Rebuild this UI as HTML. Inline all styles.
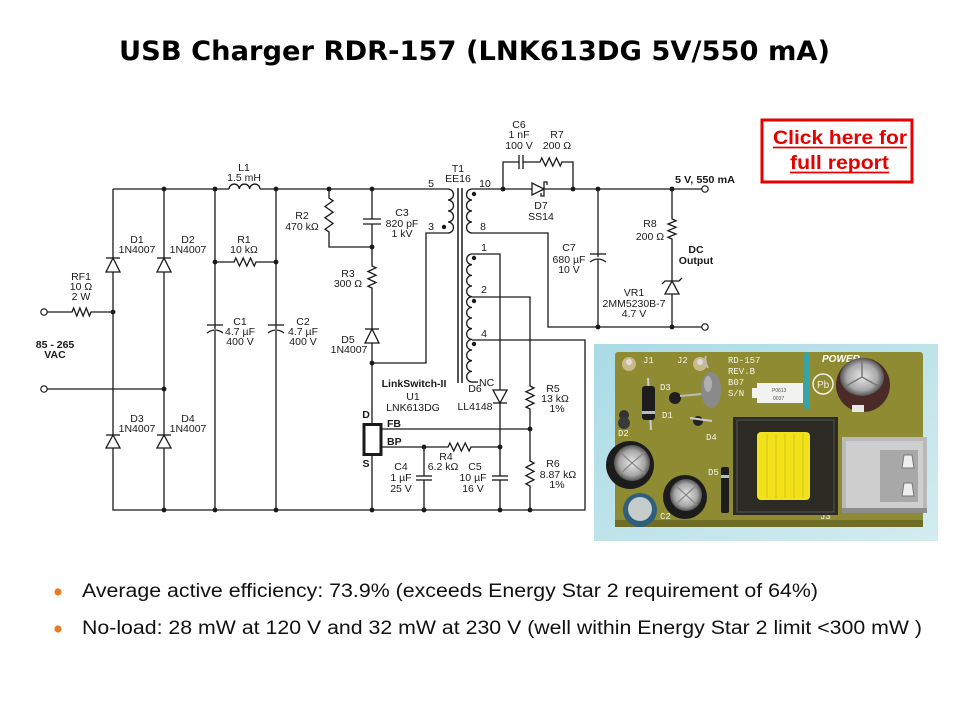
<!DOCTYPE html>
<html>
<head>
<meta charset="utf-8">
<style>
  html,body{margin:0;padding:0;background:#fff;}
  svg{display:block;}
  .t{font-family:"Liberation Sans",Arial,sans-serif;font-size:10.5px;fill:#1a1a1a;text-anchor:middle;}
  .b{font-weight:bold;}
  .s{text-anchor:start;}
  .w{stroke:#1a1a1a;stroke-width:1.3;fill:none;stroke-linejoin:miter;}
  .dw{stroke:#1a1a1a;stroke-width:1.3;fill:#fff;}
  .n{fill:#1a1a1a;}
</style>
</head>
<body>
<svg width="960" height="720" viewBox="0 0 960 720" xmlns="http://www.w3.org/2000/svg">
<rect width="960" height="720" fill="#fff"/>

<!-- Title -->
<text x="119" y="60" font-family="DejaVu Sans, Liberation Sans, sans-serif" font-weight="bold" font-size="27" fill="#000" textLength="711" lengthAdjust="spacingAndGlyphs">USB Charger RDR-157 (LNK613DG 5V/550 mA)</text>

<!-- ===== Schematic wires ===== -->
<g class="w">
  <!-- top rail -->
  <path d="M113,189 H229"/>
  <path d="M229,189 a5.17,5.17 0 0 1 10.33,0 a5.17,5.17 0 0 1 10.33,0 a5.17,5.17 0 0 1 10.33,0"/>
  <path d="M260,189 H448"/>
  <!-- left column + bottom rail + pin4 -->
  <path d="M113,189 V510 H585 V340 H472"/>
  <path d="M164,189 V510"/>
  <path d="M47,389 H164"/>
  <!-- RF1 -->
  <path d="M47,312 H72 L73.6,308 L76.75,316 L79.9,308 L83.1,316 L86.25,308 L89.4,316 L91,312 H113"/>
  <!-- C1, C2 -->
  <path d="M215,189 V329"/>
  <path d="M215,331 V510"/>
  <path d="M207,325 H223"/>
  <path d="M207,333 Q215,327 223,333"/>
  <path d="M276,189 V329"/>
  <path d="M276,331 V510"/>
  <path d="M268,325 H284"/>
  <path d="M268,333 Q276,327 284,333"/>
  <!-- R1 -->
  <path d="M215,262 H234 L235.8,258 L239.5,266 L243.2,258 L246.8,266 L250.5,258 L254.2,266 L256,262 H276"/>
  <!-- R2 -->
  <path d="M329,189 V198 L333,200.8 L325,206.5 L333,212.2 L325,217.8 L333,223.5 L325,229.2 L329,232 V247 H372"/>
  <!-- C3 column -->
  <path d="M372,189 V219"/>
  <path d="M363,219 H381"/>
  <path d="M363,224 H381"/>
  <path d="M372,224 V266 L376,267.8 L368,271.5 L376,275.2 L368,278.8 L376,282.5 L368,286.2 L372,288 V424"/>
  <path d="M372,455 V510"/>
  <!-- pin 3 -->
  <path d="M448,233 H426 V363 H372"/>
  <!-- primary coil -->
  <path d="M448,189 a5.5,5.5 0 0 1 0,11 a5.5,5.5 0 0 1 0,11 a5.5,5.5 0 0 1 0,11 a5.5,5.5 0 0 1 0,11"/>
  <!-- secondary coil 10-8 -->
  <path d="M503,189 H472 a5.5,5.5 0 0 0 0,11 a5.5,5.5 0 0 0 0,11 a5.5,5.5 0 0 0 0,11 a5.5,5.5 0 0 0 0,11 H548 V327 H702"/>
  <path d="M503,189 H702"/>
  <!-- C6 / R7 snubber -->
  <path d="M503,189 V162 H519"/>
  <path d="M519,155 V169"/>
  <path d="M523,155 V169"/>
  <path d="M523,162 H540 L541.8,158 L545.5,166 L549.2,158 L552.8,166 L556.5,158 L560.2,166 L562,162 H573 V189"/>
  <!-- C7 -->
  <path d="M598,189 V257"/>
  <path d="M598,259 V327"/>
  <path d="M590,254 H606"/>
  <path d="M590,262 Q598,256 606,262"/>
  <!-- R8 / VR1 -->
  <path d="M672,189 V219 L676,220.7 L668,224 L676,227.3 L668,230.7 L676,234 L668,237.3 L672,239 V327"/>
  <!-- bias coil -->
  <path d="M472,254 a5.33,5.33 0 0 0 0,10.67 a5.33,5.33 0 0 0 0,10.67 a5.33,5.33 0 0 0 0,10.67 a5.33,5.33 0 0 0 0,10.67 a5.33,5.33 0 0 0 0,10.67 a5.33,5.33 0 0 0 0,10.67 a5.33,5.33 0 0 0 0,10.67 a5.33,5.33 0 0 0 0,10.67 a5.33,5.33 0 0 0 0,10.67 a5.33,5.33 0 0 0 0,10.67 a5.33,5.33 0 0 0 0,10.67 a5.33,5.33 0 0 0 0,10.67 H478"/>
  <!-- pin 1 -> D6 -> C5 -->
  <path d="M472,254 H500 V476"/>
  <path d="M500,480 V510"/>
  <path d="M492,476 H508"/>
  <path d="M492,480 H508"/>
  <!-- pin 2 -> R5 -> R6 -->
  <path d="M472,297 H530 V386 L534,387.9 L526,391.75 L534,395.6 L526,399.4 L534,403.25 L526,407.1 L530,409 V461 L534,463.1 L526,467.25 L534,471.4 L526,475.6 L534,479.75 L526,483.9 L530,486 V510"/>
  <!-- FB, BP -->
  <path d="M381,429 H530"/>
  <path d="M381,447 H448 L449.9,443 L453.75,451 L457.6,443 L461.4,451 L465.25,443 L469.1,451 L471,447 H500"/>
  <!-- C4 -->
  <path d="M424,447 V476"/>
  <path d="M416,476 H432"/>
  <path d="M416,480 H432"/>
  <path d="M424,480 V510"/>
</g>
<!-- core -->
<path d="M458,188 V383 M462,188 V383" stroke="#1a1a1a" stroke-width="1.5" fill="none"/>

<!-- U1 box -->
<rect x="364" y="424.5" width="17" height="30" fill="#fff" stroke="#1a1a1a" stroke-width="3"/>

<!-- Diodes -->
<g class="dw">
  <polygon points="113,258 106,272 120,272"/><path d="M106,258 H120"/>
  <polygon points="164,258 157,272 171,272"/><path d="M157,258 H171"/>
  <polygon points="113,435 106,448 120,448"/><path d="M106,435 H120"/>
  <polygon points="164,435 157,448 171,448"/><path d="M157,435 H171"/>
  <polygon points="372,329 365,343 379,343"/><path d="M365,329 H379"/>
  <polygon points="493,390 507,390 500,403"/><path d="M493,403 H507"/>
  <polygon points="532,183 532,195 544,189"/><path d="M547,185 V182 H544 V196 H541 V193" fill="none"/>
  <polygon points="672,281 665,294 679,294"/><path d="M662,284 L665,281 H679 L682,278" fill="none"/>
</g>

<!-- Junction dots -->
<g class="n">
  <circle cx="113" cy="312" r="2.4"/><circle cx="164" cy="189" r="2.4"/><circle cx="215" cy="189" r="2.4"/>
  <circle cx="276" cy="189" r="2.4"/><circle cx="329" cy="189" r="2.4"/><circle cx="372" cy="189" r="2.4"/>
  <circle cx="164" cy="389" r="2.4"/><circle cx="215" cy="262" r="2.4"/><circle cx="276" cy="262" r="2.4"/>
  <circle cx="164" cy="510" r="2.4"/><circle cx="215" cy="510" r="2.4"/><circle cx="276" cy="510" r="2.4"/>
  <circle cx="372" cy="247" r="2.4"/><circle cx="372" cy="363" r="2.4"/><circle cx="372" cy="510" r="2.4"/>
  <circle cx="424" cy="447" r="2.4"/><circle cx="424" cy="510" r="2.4"/><circle cx="500" cy="447" r="2.4"/>
  <circle cx="500" cy="510" r="2.4"/><circle cx="530" cy="429" r="2.4"/><circle cx="530" cy="510" r="2.4"/>
  <circle cx="503" cy="189" r="2.4"/><circle cx="573" cy="189" r="2.4"/><circle cx="598" cy="189" r="2.4"/>
  <circle cx="672" cy="189" r="2.4"/><circle cx="598" cy="327" r="2.4"/><circle cx="672" cy="327" r="2.4"/>
  <!-- phase dots -->
  <circle cx="444" cy="227" r="2.2"/><circle cx="474" cy="194" r="2.2"/>
  <circle cx="474" cy="258" r="2.2"/><circle cx="474" cy="301" r="2.2"/><circle cx="474" cy="344" r="2.2"/>
</g>

<!-- Terminals -->
<g fill="#fff" stroke="#1a1a1a" stroke-width="1.2">
  <circle cx="44" cy="312" r="3.2"/><circle cx="44" cy="389" r="3.2"/>
  <circle cx="705" cy="189" r="3.2"/><circle cx="705" cy="327" r="3.2"/>
</g>

<!-- Labels -->
<g class="t">
  <text x="244" y="171">L1</text><text x="244" y="181">1.5 mH</text>
  <text x="137" y="243">D1</text><text x="137" y="253">1N4007</text>
  <text x="188" y="243">D2</text><text x="188" y="253">1N4007</text>
  <text x="244" y="243">R1</text><text x="244" y="253">10 kΩ</text>
  <text x="81" y="280">RF1</text><text x="81" y="290">10 Ω</text><text x="81" y="300">2 W</text>
  <text x="240" y="325">C1</text><text x="240" y="335">4.7 µF</text><text x="240" y="345">400 V</text>
  <text x="303" y="325">C2</text><text x="303" y="335">4.7 µF</text><text x="303" y="345">400 V</text>
  <text class="b" x="55" y="348">85 - 265</text><text class="b" x="55" y="358">VAC</text>
  <text x="137" y="422">D3</text><text x="137" y="432">1N4007</text>
  <text x="188" y="422">D4</text><text x="188" y="432">1N4007</text>
  <text x="302" y="219">R2</text><text x="302" y="230">470 kΩ</text>
  <text x="458" y="172">T1</text><text x="458" y="182">EE16</text>
  <text x="402" y="216">C3</text><text x="402" y="227">820 pF</text><text x="402" y="237">1 kV</text>
  <text x="348" y="277">R3</text><text x="348" y="287">300 Ω</text>
  <text x="348" y="343">D5</text><text x="349" y="353">1N4007</text>
  <text x="431" y="187">5</text><text x="431" y="230">3</text>
  <text x="485" y="187">10</text><text x="483" y="230">8</text>
  <text x="484" y="251">1</text><text x="484" y="293">2</text><text x="484" y="337">4</text>
  <text class="s" x="479" y="386">NC</text>
  <text class="b" x="414" y="387">LinkSwitch-II</text>
  <text x="413" y="400">U1</text><text x="413" y="411">LNK613DG</text>
  <text class="b" x="366" y="418">D</text><text class="b" x="366" y="467">S</text>
  <text class="b s" x="387" y="427">FB</text><text class="b s" x="387" y="445">BP</text>
  <text x="446" y="460">R4</text><text x="443" y="470">6.2 kΩ</text>
  <text x="401" y="470">C4</text><text x="401" y="481">1 µF</text><text x="401" y="492">25 V</text>
  <text x="475" y="470">C5</text><text x="473" y="481">10 µF</text><text x="473" y="492">16 V</text>
  <text x="475" y="392">D6</text><text x="475" y="410">LL4148</text>
  <text x="553" y="392">R5</text><text x="555" y="402">13 kΩ</text><text x="557" y="412">1%</text>
  <text x="553" y="467">R6</text><text x="558" y="478">8.87 kΩ</text><text x="557" y="488">1%</text>
  <text x="519" y="128">C6</text><text x="519" y="138">1 nF</text><text x="519" y="149">100 V</text>
  <text x="557" y="138">R7</text><text x="557" y="149">200 Ω</text>
  <text x="541" y="209">D7</text><text x="541" y="220">SS14</text>
  <text class="b s" x="675" y="183" textLength="60" lengthAdjust="spacingAndGlyphs">5 V, 550 mA</text>
  <text x="569" y="251">C7</text><text x="569" y="263">680 µF</text><text x="569" y="273">10 V</text>
  <text x="650" y="227">R8</text><text x="650" y="240">200 Ω</text>
  <text class="b" x="696" y="253">DC</text><text class="b" x="696" y="264">Output</text>
  <text x="634" y="296">VR1</text><text x="634" y="307">2MM5230B-7</text><text x="634" y="317">4.7 V</text>
</g>

<!-- Red link box -->
<rect x="762" y="120" width="150" height="62" fill="#fff" stroke="#e60000" stroke-width="3"/>
<g font-family="Liberation Sans, Arial, sans-serif" font-weight="bold" font-size="19" fill="#e60000">
  <text x="773" y="144" textLength="134" lengthAdjust="spacingAndGlyphs">Click here for</text>
  <text x="790" y="169" textLength="99" lengthAdjust="spacingAndGlyphs">full report</text>
</g>
<path d="M773,147.5 H907 M790,172.5 H889" stroke="#e60000" stroke-width="1.8"/>

<!-- ===== Photo ===== -->
<defs>
  <linearGradient id="bg" x1="0" y1="0" x2="1" y2="1">
    <stop offset="0" stop-color="#a9dbe6"/>
    <stop offset="1" stop-color="#d3ecef"/>
  </linearGradient>
  <radialGradient id="cap" cx="0.5" cy="0.5" r="0.5">
    <stop offset="0" stop-color="#e8e8e8"/>
    <stop offset="0.7" stop-color="#a8a8a8"/>
    <stop offset="1" stop-color="#555"/>
  </radialGradient>
</defs>
<rect x="594" y="344" width="344" height="197" fill="url(#bg)"/>
<rect x="615" y="352" width="308" height="175" rx="3" fill="#8e8b32"/>
<rect x="615" y="520" width="308" height="7" fill="#6f6c26"/>
<!-- teal stripe -->
<rect x="804" y="352" width="6" height="58" rx="3" fill="#3aa4a4"/>
<!-- POWER logo -->
<text x="822" y="362" font-family="Liberation Sans, sans-serif" font-weight="bold" font-style="italic" font-size="10" fill="#fff">POWER</text>
<circle cx="823" cy="384" r="10" fill="none" stroke="#f0f0e0" stroke-width="1.5"/>
<text x="817" y="388" font-family="Liberation Sans, sans-serif" font-size="10" fill="#f0f0e0">Pb</text>
<!-- white silkscreen text -->
<g font-family="Liberation Mono, monospace" font-size="9" fill="#f4f4e8">
  <text x="643" y="363">J1</text><text x="677" y="363">J2</text>
  <text x="728" y="363">RD-157</text><text x="728" y="374">REV.B</text>
  <text x="728" y="385">B07</text><text x="728" y="396">S/N</text>
  <text x="660" y="390">D3</text><text x="662" y="418">D1</text><text x="618" y="436">D2</text>
  <text x="706" y="440">D4</text><text x="708" y="475">D5</text><text x="660" y="519">C2</text>
  <text x="820" y="519">J3</text>
</g>
<!-- sticker -->
<rect x="757" y="383" width="46" height="20" fill="#f2f2f0"/>
<rect x="752" y="388" width="6" height="10" fill="#f2f2f0"/>
<text x="772" y="392" font-family="Liberation Sans, sans-serif" font-size="5" fill="#555">P0613</text>
<text x="773" y="400" font-family="Liberation Sans, sans-serif" font-size="5" fill="#555">0037</text>
<!-- J1, J2 pins -->
<circle cx="629" cy="364" r="7" fill="#cbb98a"/><circle cx="629" cy="362" r="3" fill="#ddd"/>
<circle cx="700" cy="364" r="7" fill="#cbb98a"/><circle cx="700" cy="362" r="3" fill="#ddd"/>
<!-- D3 black diode -->
<line x1="648" y1="378" x2="651" y2="430" stroke="#ccc" stroke-width="2"/>
<rect x="642" y="386" width="13" height="34" rx="3" fill="#1c1c1c"/>
<rect x="642" y="411" width="13" height="3" fill="#bbb"/>
<!-- small diodes D2, D1, D4 -->
<circle cx="624" cy="415" r="5" fill="#333"/><circle cx="624" cy="423" r="6" fill="#3a3a3a"/>
<circle cx="675" cy="398" r="6" fill="#1e1e1e"/>
<path d="M680,396 L702,394" stroke="#bbb" stroke-width="2"/>
<circle cx="698" cy="421" r="5" fill="#222"/><path d="M690,418 L712,421" stroke="#ccc" stroke-width="2"/>
<!-- gray resistor RF1 -->
<ellipse cx="711" cy="390" rx="10" ry="18" fill="#8a8a8a"/>
<ellipse cx="708" cy="384" rx="4" ry="8" fill="#b0b0b0"/>
<path d="M708,368 Q704,360 706,356" stroke="#bbb" stroke-width="2" fill="none"/>
<!-- big output cap -->
<circle cx="863" cy="385" r="27" fill="#4a2b28"/>
<ellipse cx="862" cy="377" rx="22" ry="19" fill="url(#cap)"/>
<path d="M862,377 L862,360 M862,377 L878,386 M862,377 L846,386" stroke="#777" stroke-width="1.5"/>
<rect x="852" y="405" width="12" height="7" fill="#e8e8e8"/>
<!-- transformer -->
<rect x="733" y="417" width="105" height="98" fill="#2b2b24"/>
<rect x="737" y="420" width="97" height="92" fill="none" stroke="#555" stroke-width="1"/>
<rect x="757" y="432" width="53" height="68" rx="4" fill="#f1e21c"/>
<g stroke="#d6c410" stroke-width="1">
  <path d="M767,434 V498 M776,434 V498 M785,434 V498 M794,434 V498 M803,434 V498"/>
</g>
<!-- USB connector -->
<rect x="842" y="437" width="85" height="76" fill="#b9b9b9"/>
<rect x="846" y="441" width="77" height="68" fill="#cfcfcf"/>
<rect x="880" y="450" width="38" height="52" fill="#a8a8a8"/>
<path d="M904,455 L912,455 L914,468 L902,468 Z M904,483 L912,483 L914,496 L902,496 Z" fill="#eee" stroke="#777" stroke-width="1"/>
<rect x="842" y="508" width="85" height="5" fill="#8d8d8d"/>
<!-- D5 -->
<rect x="721" y="467" width="8" height="46" rx="2" fill="#1c1c1c"/>
<rect x="721" y="475" width="8" height="3" fill="#bbb"/>
<!-- C1 -->
<circle cx="630" cy="465" r="24" fill="#1c1c1c"/>
<circle cx="632" cy="463" r="18" fill="url(#cap)"/>
<path d="M632,463 L620,452 M632,463 L645,452 M632,463 L620,474 M632,463 L645,474" stroke="#888" stroke-width="1.2"/>
<!-- blue cap -->
<circle cx="640" cy="510" r="17" fill="#2f5f7c"/>
<circle cx="640" cy="509" r="12" fill="#c4cccc"/>
<!-- C2 -->
<circle cx="685" cy="497" r="22" fill="#1c1c1c"/>
<circle cx="686" cy="495" r="16" fill="url(#cap)"/>
<path d="M686,495 L675,485 M686,495 L697,485 M686,495 L675,505 M686,495 L697,505" stroke="#888" stroke-width="1.2"/>

<!-- Bullets -->
<circle cx="58" cy="592" r="3.6" fill="#e77a22"/>
<circle cx="58" cy="629" r="3.6" fill="#e77a22"/>
<g font-family="Liberation Sans, Arial, sans-serif" font-size="19" fill="#111">
  <text x="82" y="597" textLength="736" lengthAdjust="spacingAndGlyphs">Average active efficiency: 73.9% (exceeds Energy Star 2 requirement  of 64%)</text>
  <text x="82" y="634" textLength="840" lengthAdjust="spacingAndGlyphs">No-load: 28 mW at 120 V and 32 mW at 230 V (well within Energy Star 2 limit &lt;300 mW )</text>
</g>
</svg>
</body>
</html>
